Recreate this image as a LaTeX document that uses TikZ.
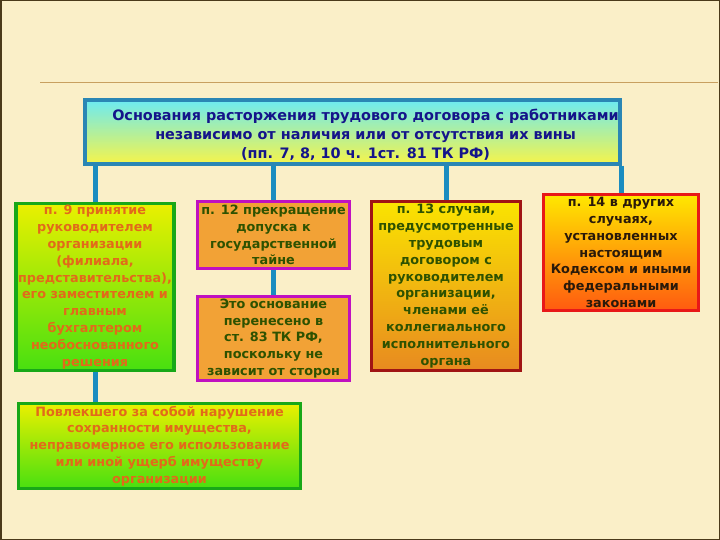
\documentclass[tikz,border=0pt]{standalone}
\usepackage{xcolor}
\usepackage{fontspec}
\setmainfont{DejaVu Sans}
\usepackage{tikz}
\definecolor{cream}{HTML}{FAEFC8}
\definecolor{framebrown}{HTML}{4A3A1A}
\definecolor{rulebrown}{HTML}{C8A060}
\definecolor{linkblue}{HTML}{1A8CC0}
\definecolor{titleborder}{HTML}{2A86B4}
\definecolor{titletop}{HTML}{6CEAF2}
\definecolor{titlebot}{HTML}{F6F44A}
\definecolor{navytext}{HTML}{14148A}
\definecolor{greenborder}{HTML}{18A818}
\definecolor{greentop}{HTML}{EAF000}
\definecolor{greenbot}{HTML}{48E010}
\definecolor{orangetext}{HTML}{E26A1A}
\definecolor{purpleborder}{HTML}{C010C0}
\definecolor{orangefill}{HTML}{F2A236}
\definecolor{darkgreentext}{HTML}{2E5200}
\definecolor{redborder}{HTML}{A01414}
\definecolor{ambertop}{HTML}{FAE400}
\definecolor{amberbot}{HTML}{E88A20}
\definecolor{brightred}{HTML}{E81818}
\definecolor{redtop}{HTML}{FFE800}
\definecolor{redbot}{HTML}{FF5A10}
\definecolor{blacktext}{HTML}{2A1A0A}

\begin{document}
\begin{tikzpicture}[x=1pt,y=-1pt,
    box/.style={draw,line width=3.5pt,align=center,inner sep=0pt,
        font=\bfseries\fontsize{12.8}{16.8}\selectfont},
    greenbox/.style={box,draw=greenborder,top color=greentop,bottom color=greenbot,text=orangetext},
    purplebox/.style={box,draw=purpleborder,fill=orangefill,text=darkgreentext},
    link/.style={linkblue,line width=5pt}]
    % background
    \fill[cream] (0,0) rectangle (720,540);
    \draw[framebrown,line width=1.5pt] (0.75,0.75) rectangle (719.25,539.25);
    \draw[rulebrown,line width=1pt] (40,83) -- (718,83);
    \useasboundingbox (0,0) rectangle (720,540);

    % title
    \node[box,draw=titleborder,top color=titletop,bottom color=titlebot,
        minimum width=535,minimum height=64] (title) at (352.5,132) {};
    \node[align=center,inner sep=0pt,text=navytext,
        font=\bfseries\fontsize{14.4}{19}\selectfont] (titletext) at ([xshift=13pt,yshift=-3pt]title.center)
        {Основания расторжения трудового договора с работниками\\
         независимо от наличия или от отсутствия их вины\\
         (пп. 7, 8, 10 ч. 1ст. 81 ТК РФ)};

    % row of grounds
    \node[greenbox,minimum width=158,minimum height=167] (p9) at (95,287)
        {п. 9 принятие\\ руководителем\\ организации\\ (филиала,\\ представительства),\\
         его заместителем и\\ главным\\ бухгалтером\\ необоснованного\\ решения};
    \node[purplebox,minimum width=152,minimum height=67] (p12) at (273.5,235)
        {п. 12 прекращение\\ допуска к\\ государственной\\ тайне};
    \node[purplebox,minimum width=152,minimum height=84] (art83) at (273.5,338.5)
        {Это основание\\ перенесено в\\ ст. 83 ТК РФ,\\ поскольку не\\ зависит от сторон};
    \node[box,draw=redborder,top color=ambertop,bottom color=amberbot,text=darkgreentext,
        minimum width=149,minimum height=169] (p13) at (446,286)
        {п. 13 случаи,\\ предусмотренные\\ трудовым\\ договором с\\ руководителем\\
         организации,\\ членами её\\ коллегиального\\ исполнительного\\ органа};
    \node[box,draw=brightred,top color=redtop,bottom color=redbot,text=blacktext,
        minimum width=155,minimum height=116] (p14) at (621,252.5)
        {п. 14 в других\\ случаях,\\ установленных\\ настоящим\\ Кодексом и иными\\
         федеральными\\ законами};

    % consequence of p. 9
    \node[greenbox,minimum width=282,minimum height=85] (damage) at (159.5,446)
        {Повлекшего за собой нарушение\\ сохранности имущества,\\
         неправомерное его использование\\ или иной ущерб имуществу\\ организации};

    % connectors
    \draw[link] (title.south -| p9.north) -- (p9.north);
    \draw[link] (title.south -| p12.north) -- (p12.north);
    \draw[link] (title.south -| p13.north) -- (p13.north);
    \draw[link] (title.south -| p14.north) -- (p14.north);
    \draw[link] (p12.south) -- (art83.north);
    \draw[link] (p9.south) -- (damage.north -| p9.south);
\end{tikzpicture}
\end{document}
